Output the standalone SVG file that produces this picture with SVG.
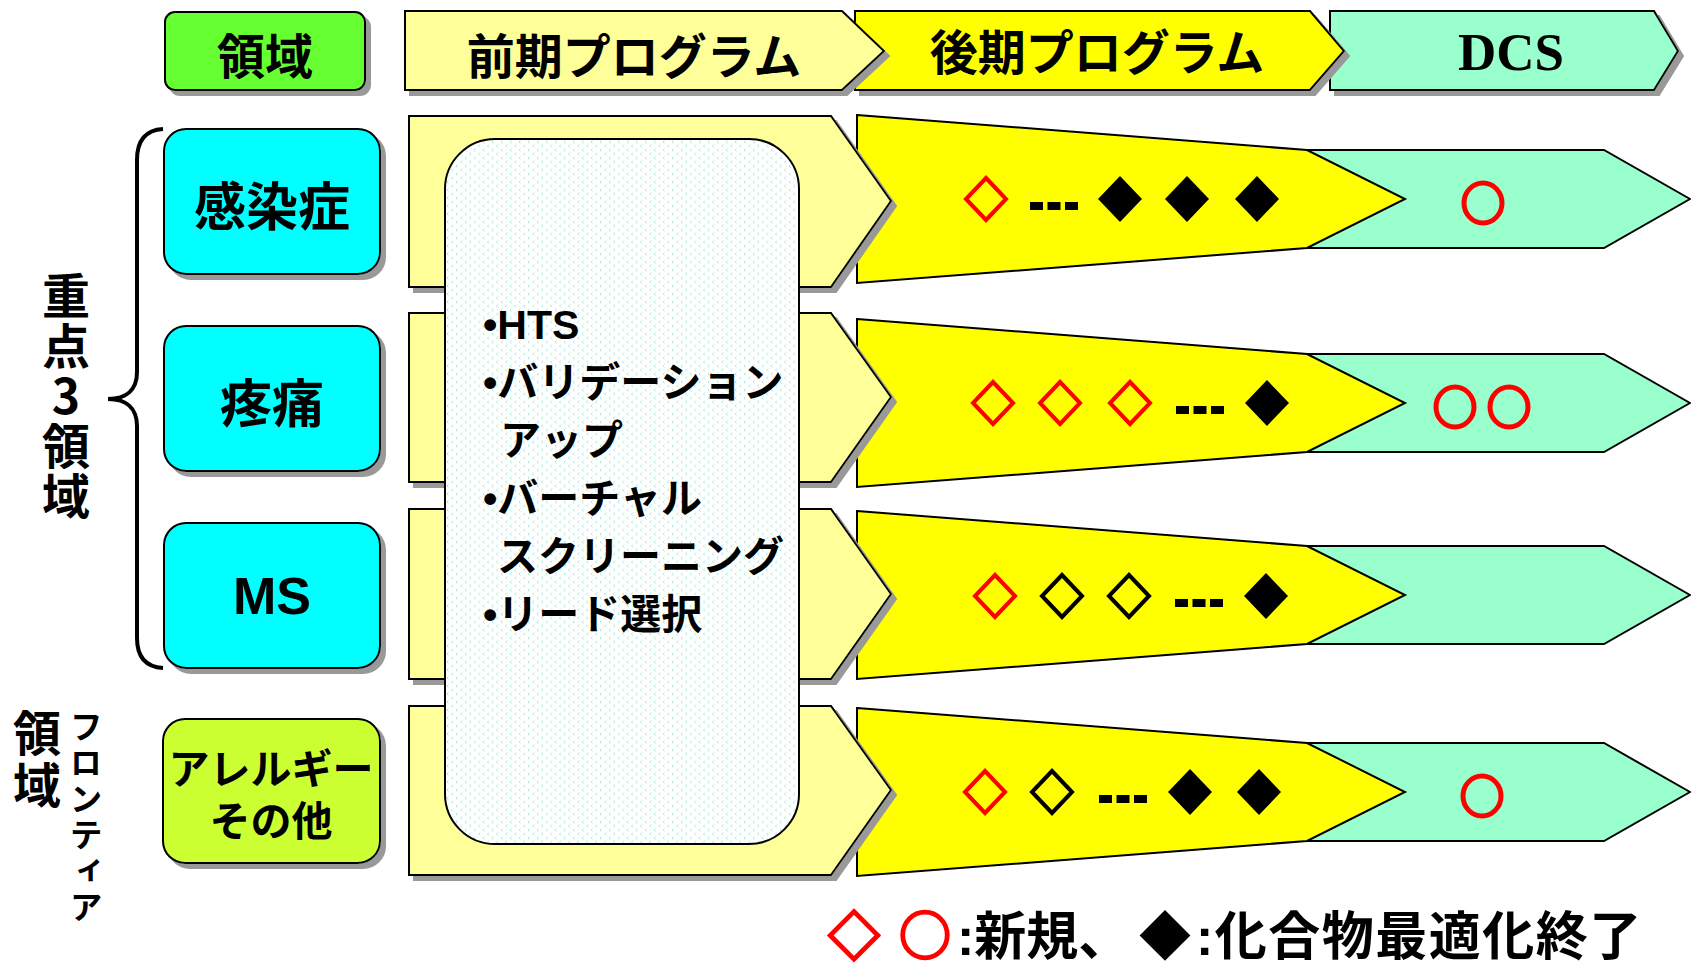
<svg xmlns="http://www.w3.org/2000/svg" width="1691" height="971" viewBox="0 0 1691 971">
<defs>
<style>
.jp{font-family:"Noto Sans CJK JP",sans-serif;font-weight:bold;fill:#000}
.lat{font-family:"Liberation Sans","Noto Sans CJK JP",sans-serif;font-weight:bold;fill:#000}
.sym{font-family:"Noto Sans CJK JP",sans-serif;font-weight:bold}
.vt{writing-mode:vertical-rl;text-orientation:upright}
.ol{stroke:#000;stroke-width:2;stroke-linejoin:miter}
.pre{fill:#FFFF99}
.post{fill:#FFFF00}
.dcs{fill:#99FFCC}
.cy{fill:#00FFFF}
.red{fill:none;stroke:#FF0000;stroke-width:4}
.blk{fill:none;stroke:#000;stroke-width:4}
.circ{fill:none;stroke:#FF0000;stroke-width:5}
</style>
<filter id="sh" x="-5%" y="-5%" width="115%" height="125%">
<feOffset in="SourceAlpha" dx="5" dy="5" result="o"/>
<feFlood flood-color="#999999"/>
<feComposite in2="o" operator="in" result="s"/>
<feMerge><feMergeNode in="s"/><feMergeNode in="SourceGraphic"/></feMerge>
</filter>
<pattern id="pat" width="9" height="8" patternUnits="userSpaceOnUse">
<rect width="9" height="8" fill="#FFFFFF"/>
<path d="M3,0.5 L1.5,2 L3,3.5 M7.5,4.5 L6,6 L7.5,7.5" stroke="#A6EEDB" stroke-width="1" fill="none"/>
</pattern>
<path id="dOpen" d="M0,-21 L20,0 L0,21 L-20,0 Z"/>
<path id="dFill" d="M0,-23 L22,0 L0,23 L-22,0 Z"/>
<g id="dash"><rect x="0" y="0" width="13" height="8"/><rect x="17.5" y="0" width="13" height="8"/><rect x="35" y="0" width="13" height="8"/></g>
</defs>

<rect width="1691" height="971" fill="#FFFFFF"/>

<!-- header row -->
<g id="hdr-dcs">
<polygon class="dcs ol" filter="url(#sh)" points="1330,11 1654,11 1678,51 1654,90 1330,90"/>
<text x="1511" y="70" font-family="Liberation Serif,serif" font-weight="bold" font-size="53" text-anchor="middle">DCS</text>
</g>
<g id="hdr-post">
<polygon class="post ol" filter="url(#sh)" points="855,11 1310,11 1344,51 1310,90 855,90"/>
<text class="jp" x="1097" y="70" font-size="48" text-anchor="middle">後期プログラム</text>
</g>
<g id="hdr-pre">
<polygon class="pre ol" filter="url(#sh)" points="405,11 842,11 884,51 842,90 405,90"/>
<text class="jp" x="634" y="74" font-size="48" text-anchor="middle">前期プログラム</text>
</g>
<g id="hdr-area">
<rect class="ol" filter="url(#sh)" x="165" y="12" width="200" height="78" rx="10" fill="#66FF33"/>
<text class="jp" x="265" y="74" font-size="48" text-anchor="middle">領域</text>
</g>

<!-- DCS row arrows -->
<g id="dcs-rows">
<polygon id="dcs1" class="dcs ol" points="1307,150 1604,150 1690,199 1604,248 1307,248"/>
<polygon id="dcs2" class="dcs ol" points="1307,354 1604,354 1690,403 1604,452 1307,452"/>
<polygon id="dcs3" class="dcs ol" points="1307,546 1604,546 1690,595 1604,644 1307,644"/>
<polygon id="dcs4" class="dcs ol" points="1307,743 1604,743 1690,792 1604,841 1307,841"/>
</g>

<!-- later program rows -->
<g id="post-rows">
<polygon id="post1" class="post ol" points="857,115 1307,150 1405,199 1307,248 857,283"/>
<polygon id="post2" class="post ol" points="857,319 1307,354 1405,403 1307,452 857,487"/>
<polygon id="post3" class="post ol" points="857,511 1307,546 1405,595 1307,644 857,679"/>
<polygon id="post4" class="post ol" points="857,708 1307,743 1405,792 1307,841 857,876"/>
</g>

<!-- early program rows -->
<g id="pre-rows">
<polygon id="pre1" class="pre ol" filter="url(#sh)" points="409,116 831,116 891,201 831,287 409,287"/>
<polygon id="pre2" class="pre ol" filter="url(#sh)" points="409,313 831,313 891,397 831,482 409,482"/>
<polygon id="pre3" class="pre ol" filter="url(#sh)" points="409,509 831,509 891,594 831,679 409,679"/>
<polygon id="pre4" class="pre ol" filter="url(#sh)" points="409,706 831,706 891,790 831,875 409,875"/>
</g>

<!-- center panel -->
<g id="panel">
<rect class="ol" x="445" y="139" width="354" height="705" rx="50" fill="url(#pat)"/>
<text class="lat" font-size="41">
<tspan x="483" y="339">•HTS</tspan>
<tspan x="483" y="397">•バリデーション</tspan>
<tspan x="500" y="455">アップ</tspan>
<tspan x="483" y="513">•バーチャル</tspan>
<tspan x="497" y="571">スクリーニング</tspan>
<tspan x="483" y="629">•リード選択</tspan>
</text>
</g>

<!-- left area boxes -->
<g id="area-infection">
<rect class="cy ol" filter="url(#sh)" x="164" y="129" width="216" height="145" rx="22"/>
<text class="jp" x="272" y="226" font-size="52" text-anchor="middle">感染症</text>
</g>
<g id="area-pain">
<rect class="cy ol" filter="url(#sh)" x="164" y="326" width="216" height="145" rx="22"/>
<text class="jp" x="272" y="423" font-size="52" text-anchor="middle">疼痛</text>
</g>
<g id="area-ms">
<rect class="cy ol" filter="url(#sh)" x="164" y="523" width="216" height="145" rx="22"/>
<text class="lat" x="272" y="614" font-size="52" text-anchor="middle">MS</text>
</g>
<g id="area-allergy">
<rect class="ol" filter="url(#sh)" x="163" y="719" width="217" height="144" rx="22" fill="#CCFF33"/>
<text class="lat" font-size="41" text-anchor="middle"><tspan x="271" y="784">アレルギー</tspan><tspan x="271" y="836">その他</tspan></text>
</g>

<!-- brace and side labels -->
<g id="connectors">
<path d="M163,129 C146,130 137,140 137,160 L137,372 C137,390 126,399 108,399 C126,399 137,408 137,426 L137,638 C137,657 146,667 163,668" fill="none" stroke="#000" stroke-width="4"/>
</g>
<g id="label-priority">
<text class="jp vt" x="66" y="272" font-size="48" letter-spacing="2">重点3領域</text>
</g>
<g id="label-frontier">
<text class="jp vt" x="37" y="709" font-size="48" letter-spacing="4">領域</text>
<text class="jp vt" x="86" y="710" font-size="33" letter-spacing="3">フロンティア</text>
</g>

<!-- row markers -->
<g id="marks1">
<use href="#dOpen" x="986" y="199" class="red"/>
<use href="#dash" x="1030" y="202"/>
<use href="#dFill" x="1120" y="199"/>
<use href="#dFill" x="1187" y="199"/>
<use href="#dFill" x="1257" y="199"/>
<ellipse class="circ" cx="1483" cy="203" rx="19" ry="20"/>
</g>
<g id="marks2">
<use href="#dOpen" x="993" y="403" class="red"/>
<use href="#dOpen" x="1060" y="403" class="red"/>
<use href="#dOpen" x="1130" y="403" class="red"/>
<use href="#dash" x="1176" y="406"/>
<use href="#dFill" x="1267" y="403"/>
<ellipse class="circ" cx="1455" cy="407" rx="19" ry="20"/>
<ellipse class="circ" cx="1509" cy="407" rx="19" ry="20"/>
</g>
<g id="marks3">
<use href="#dOpen" x="995" y="596" class="red"/>
<use href="#dOpen" x="1062" y="596" class="blk"/>
<use href="#dOpen" x="1129" y="596" class="blk"/>
<use href="#dash" x="1175" y="599"/>
<use href="#dFill" x="1266" y="596"/>
</g>
<g id="marks4">
<use href="#dOpen" x="985" y="792" class="red"/>
<use href="#dOpen" x="1052" y="792" class="blk"/>
<use href="#dash" x="1099" y="795"/>
<use href="#dFill" x="1190" y="792"/>
<use href="#dFill" x="1259" y="792"/>
<ellipse class="circ" cx="1482" cy="796" rx="19" ry="20"/>
</g>

<!-- legend -->
<g id="legend">
<text class="lat" font-size="52" y="955"><tspan class="sym" x="828" fill="#FF0000" stroke="#FF0000" stroke-width="2.5">◇</tspan><tspan class="sym" x="899" fill="#FF0000" stroke="#FF0000" stroke-width="2.5">○</tspan><tspan x="957" fill="#000" stroke="none">:新規、</tspan><tspan class="sym" x="1139" fill="#000">◆</tspan><tspan x="1196" letter-spacing="1.5" fill="#000">:化合物最適化終了</tspan></text>
</g>
</svg>
